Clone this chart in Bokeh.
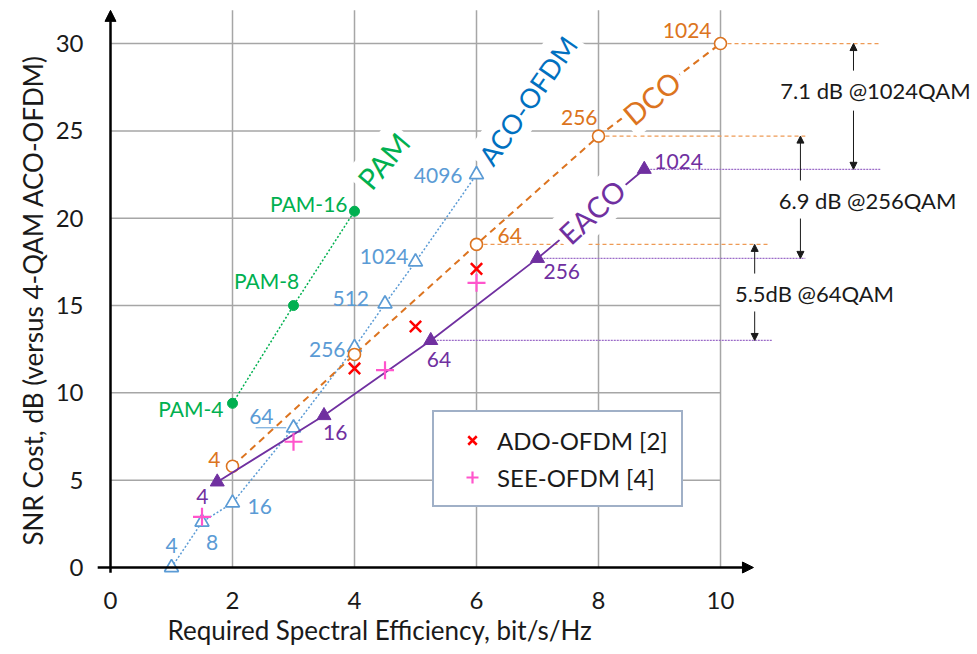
from bokeh.plotting import figure
from bokeh.models import (Range1d, FixedTicker, Label, Arrow, NormalHead, Title,
                          Legend, LegendItem, ColumnDataSource)
from bokeh.core.properties import value
from bokeh.embed import file_html
from bokeh.resources import INLINE

FONT = "Lato"

# ---------------- data ----------------
x_ticks = [0, 2, 4, 6, 8, 10]
y_ticks = [0, 5, 10, 15, 20, 25, 30]
x_title = "Required Spectral Efficiency, bit/s/Hz"
y_title = "SNR Cost, dB (versus 4-QAM ACO-OFDM)"

pam_x = [2, 3, 4]
pam_y = [9.4, 15.0, 20.4]
pam_lbl = ["PAM-4", "PAM-8", "PAM-16"]

aco_x = [1, 1.5, 2, 3, 4, 4.5, 5, 6]
aco_y = [0.0, 2.6, 3.7, 8.0, 12.6, 15.1, 17.5, 22.5]
aco_lbl = ["4", "8", "16", "64", "256", "512", "1024", "4096"]

dco_x = [2, 4, 6, 8, 10]
dco_y = [5.8, 12.2, 18.5, 24.7, 30.0]
dco_lbl = ["4", "", "64", "256", "1024"]

eaco_x = [1.75, 3.5, 5.25, 7, 8.75]
eaco_y = [4.9, 8.7, 13.0, 17.7, 22.8]
eaco_lbl = ["4", "16", "64", "256", "1024"]

ado_x = [4, 5, 6]
ado_y = [11.4, 13.8, 17.1]

see_x = [1.5, 3, 4.5, 6]
see_y = [2.9, 7.2, 11.3, 16.3]

gap_texts = ["7.1 dB @1024QAM", "6.9 dB @256QAM", "5.5dB @64QAM"]

# ---------------- styling / layout (label offsets in px) ----------------
pam_off = dict(xo=[-9, -27, -7], yo=[5, -25, -8], al=["right", "center", "right"])
aco_off = dict(xo=[0, 10, 15, -20, -9, -16, -7, -14], yo=[-22, 20, 4, -11, 2, -5, -5, 1],
               al=["center", "center", "left", "right", "right", "right", "right", "right"])
dco_off = dict(xo=[-12, 0, 21, -1, -9], yo=[-7, 0, -9, -19, -13],
               al=["right", "right", "left", "right", "right"])
eaco_off = dict(xo=[-15, -1, -4, 6, 10], yo=[15, 17, 19, 13, -8],
                al=["center", "left", "left", "left", "left"])

PAM_C = "#00B050"
ACO_C = "#5B9BD5"
ACO_T = "#0070C0"
DCO_C = "#DC7420"
EACO_C = "#7030A0"
GRID_C = "#A6A6A6"
TXT_C = "#1a1a1a"

p = figure(width=975, height=652, output_backend="svg", toolbar_location=None,
           x_range=Range1d(-0.2623, 14.18), y_range=Range1d(-0.515, 31.95),
           min_border_left=94, min_border_right=0, min_border_top=9, min_border_bottom=76)
p.outline_line_color = None
p.xgrid.grid_line_color = None
p.ygrid.grid_line_color = None

for ax, ticks in ((p.xaxis, x_ticks), (p.yaxis, y_ticks)):
    ax.ticker = FixedTicker(ticks=ticks, minor_ticks=[])
    ax.axis_line_color = None
    ax.major_tick_line_color = None
    ax.minor_tick_line_color = None
    ax.major_tick_out = 0
    ax.major_tick_in = 0
    ax.major_label_text_font = FONT
    ax.major_label_text_font_size = "24px"
    ax.major_label_text_color = TXT_C

p.xaxis.major_label_standoff = 15
p.yaxis.major_label_standoff = 11

# axis titles (placed like the original: centred under the 0..10 part)
p.add_layout(Title(text=x_title, align="left", offset=73, standoff=0, text_color=TXT_C,
                   text_font=FONT, text_font_size="26px", text_font_style="normal"), "below")
p.add_layout(Title(text=y_title, align="left", offset=31, standoff=7, text_color=TXT_C,
                   text_font=FONT, text_font_size="26px", text_font_style="normal"), "left")

# grid lines (bounded like the original)
x_top = 31.9
vx = x_ticks[1:]
p.segment(x0=vx, y0=[0] * len(vx), x1=vx, y1=[x_top] * len(vx), line_color=GRID_C, line_width=1.5)
hy = y_ticks[1:]
p.segment(x0=[0] * len(hy), y0=hy, x1=[x_ticks[-1]] * len(hy), y1=hy, line_color=GRID_C, line_width=1.5)

# axes with arrow heads
p.add_layout(Arrow(x_start=-0.21, y_start=0, x_end=10.54, y_end=0, line_width=2.5, line_color="black",
                   end=NormalHead(size=11, fill_color="black", line_color="black")))
p.add_layout(Arrow(x_start=0, y_start=-0.3, x_end=0, y_end=x_top, line_width=2.5, line_color="black",
                   end=NormalHead(size=11, fill_color="black", line_color="black")))

# horizontal reference lines from DCO / EACO points
ref_end_dco = [10.82, 11.39, 12.62]
ref_end_eaco = [10.85, 11.39, 12.62]
p.segment(x0=dco_x[2:], y0=dco_y[2:], x1=ref_end_dco, y1=dco_y[2:],
          line_color="#EE9A55", line_width=1.2, line_dash="4 3")
p.segment(x0=eaco_x[2:], y0=eaco_y[2:], x1=ref_end_eaco, y1=eaco_y[2:],
          line_color="#9B6BC8", line_width=1.2, line_dash="2 1")

# series
p.line(pam_x, pam_y, line_color=PAM_C, line_width=1.5, line_dash="2 2")
p.scatter(pam_x, pam_y, marker="circle", size=10, fill_color=PAM_C, line_color=PAM_C)

p.line(aco_x, aco_y, line_color=ACO_C, line_width=1.5, line_dash="2 2")
p.scatter(aco_x, aco_y, marker="triangle", size=14, fill_color="white", line_color=ACO_C, line_width=1.7)
p.segment(x0=[aco_x[3] - 0.62], y0=[aco_y[3]], x1=[aco_x[3] - 0.12], y1=[aco_y[3]],
          line_color=ACO_C, line_width=1)

p.line(dco_x, dco_y, line_color=DCO_C, line_width=2, line_dash="7 5")
p.scatter(dco_x, dco_y, marker="circle", size=12, fill_color="white", line_color=DCO_C, line_width=1.6)

p.line(eaco_x, eaco_y, line_color=EACO_C, line_width=1.8)
p.scatter(eaco_x, eaco_y, marker="triangle", size=14, fill_color=EACO_C, line_color=EACO_C)

r_ado = p.scatter(ado_x, ado_y, marker="x", size=16, line_color="#FF0000", line_width=2.5)
r_see = p.scatter(see_x, see_y, marker="cross", size=18, line_color="#FF55CC", line_width=2.2)

# point labels
def point_labels(xs, ys, lbls, off, color):
    src = ColumnDataSource(dict(x=xs, y=ys, t=lbls, xo=off["xo"], yo=off["yo"], al=off["al"]))
    p.text(x="x", y="y", text="t", x_offset="xo", y_offset="yo", text_align="al",
           text_baseline="middle", source=src, text_color=color,
           text_font=value(FONT), text_font_size="21px")

point_labels(pam_x, pam_y, pam_lbl, pam_off, PAM_C)
point_labels(aco_x, aco_y, aco_lbl, aco_off, ACO_C)
point_labels(dco_x, dco_y, dco_lbl, dco_off, DCO_C)
point_labels(eaco_x, eaco_y, eaco_lbl, eaco_off, EACO_C)

# series names (rotated)
def name_label(x, y, text, angle, color, size):
    p.add_layout(Label(x=x, y=y, text=text, angle=angle, angle_units="deg",
                       text_align="center", text_baseline="middle", text_color=color,
                       text_font=FONT, text_font_size=size,
                       background_fill_color="white", background_fill_alpha=1.0,
                       padding=4))

name_label(4.47, 23.29, "PAM", 50, PAM_C, "29px")
name_label(6.84, 26.74, "ACO-OFDM", 55, ACO_T, "27px")
name_label(8.87, 26.90, "DCO", 40, DCO_C, "29px")
name_label(7.89, 20.38, "EACO", 43, EACO_C, "29px")

# gap annotations: double arrows broken by text
arrow_x = [12.18, 11.31, 10.56]
top_y = [dco_y[4], dco_y[3], dco_y[2]]
bot_y = [eaco_y[4], eaco_y[3], eaco_y[2]]
brk_hi = [28.45, 22.16, 16.83]
brk_lo = [26.16, 19.98, 14.66]
txt_xy = [(12.54, 27.3), (12.41, 21.0), (11.54, 15.69)]
for i in range(3):
    p.add_layout(Arrow(x_start=arrow_x[i], y_start=brk_hi[i], x_end=arrow_x[i], y_end=top_y[i],
                       line_width=1, line_color=TXT_C,
                       end=NormalHead(size=7, fill_color=TXT_C, line_color=TXT_C)))
    p.add_layout(Arrow(x_start=arrow_x[i], y_start=brk_lo[i], x_end=arrow_x[i], y_end=bot_y[i],
                       line_width=1, line_color=TXT_C,
                       end=NormalHead(size=7, fill_color=TXT_C, line_color=TXT_C)))
    p.add_layout(Label(x=txt_xy[i][0], y=txt_xy[i][1], text=gap_texts[i], text_align="center",
                       text_baseline="middle", text_color=TXT_C, text_font=FONT,
                       text_font_size="22px"))

legend = Legend(items=[LegendItem(label="ADO-OFDM [2]", renderers=[r_ado]),
                       LegendItem(label="SEE-OFDM [4]", renderers=[r_see])],
                location=(338, 69), padding=13, spacing=7, label_height=30,
                glyph_width=50, glyph_height=30, label_standoff=0, label_width=171,
                label_text_font=FONT, label_text_font_size="24px", label_text_color=TXT_C,
                border_line_color="#41628F", border_line_width=2.2,
                background_fill_color="white", background_fill_alpha=1.0)
p.add_layout(legend)

open("out.html", "w").write(file_html(p, INLINE))
